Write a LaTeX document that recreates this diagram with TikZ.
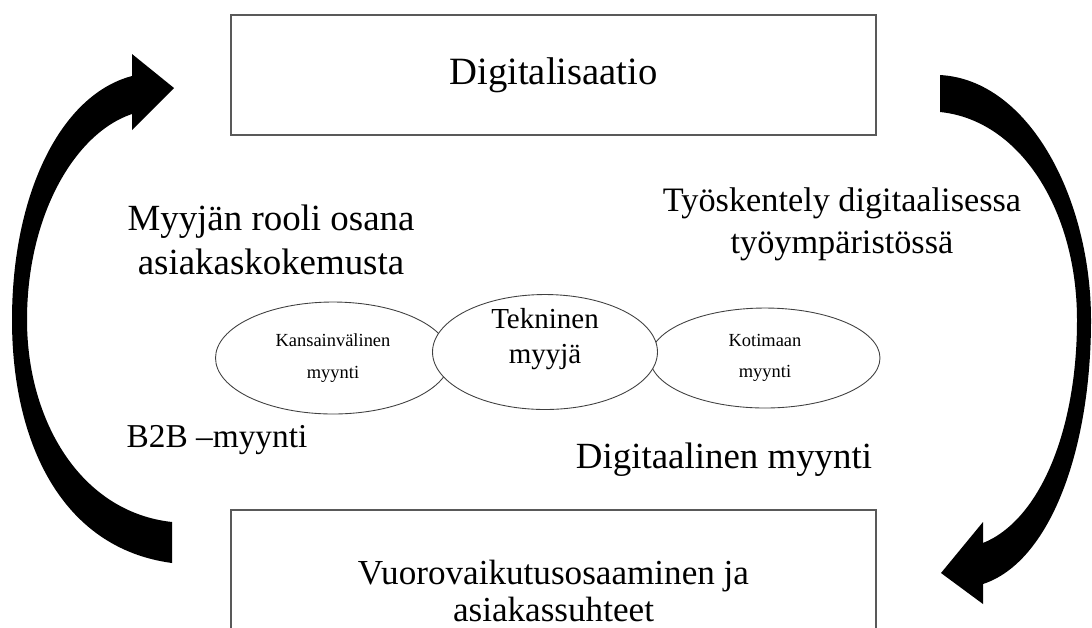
\documentclass[tikz,border=0pt]{standalone}
\usepackage{fontspec}
\setmainfont{Liberation Serif}
\usetikzlibrary{shapes.geometric}

\begin{document}
\begin{tikzpicture}[
            x=0.02cm, y=-0.02cm,
            box/.style={draw=black!65, line width=0.9pt, minimum width=12.9cm, align=center},
            oval/.style={ellipse, draw=black!75, line width=0.5pt, fill=white, align=center, inner sep=0pt},
            big/.style={align=center, font=\fontsize{20}{25}\selectfont}
        ]
            \useasboundingbox (0,0) rectangle (1092,627);

            \node[box, minimum height=2.4cm, font=\fontsize{22}{26}\selectfont] (digi) at (553.5,75) {Digitalisaatio};
            \node[box, minimum height=3.24cm, font=\fontsize{20}{21}\selectfont] (vuoro) at (553.5,591) {Vuorovaikutusosaaminen ja\\asiakassuhteet};

            \node[oval, minimum width=4.7cm, minimum height=2.24cm, font=\fontsize{10.5}{18}\selectfont] (kans) at (333,358) {Kansainvälinen\\myynti};
            \node[oval, minimum width=4.6cm, minimum height=2.0cm, font=\fontsize{10.5}{18}\selectfont] (koti) at (765,358) {Kotimaan\\myynti};
            \node[oval, minimum width=4.5cm, minimum height=2.3cm, font=\fontsize{16.5}{20}\selectfont] (myyja) at (545,352)
                {\raisebox{3pt}[0pt][0pt]{\begin{tabular}{@{}c@{}}Tekninen\\myyjä\end{tabular}}};

            \node[big, font=\fontsize{21}{25}\selectfont] (rooli) at (271,240) {Myyjän rooli osana\\asiakaskokemusta};
            \node[big, font=\fontsize{19.5}{24}\selectfont] (tyo) at (842,224) {Työskentely digitaalisessa\\työympäristössä};
            \node[big, font=\fontsize{19}{24}\selectfont] (b2b) at (217,440) {B2B –myynti};
            \node[big, font=\fontsize{21}{25}\selectfont] (digimyynti) at (724,460) {Digitaalinen myynti};

            \fill (172,563) .. controls (60,548) and (12,440) .. (12,320)
                .. controls (12,195) and (60,95) .. (132,76) -- (132,54) -- (174,88) -- (132,130) -- (132,114)
                .. controls (75,133) and (27,215) .. (27,320)
                .. controls (27,420) and (80,512) .. (172,522) -- cycle;

            \fill (940,75) .. controls (1030,80) and (1091,200) .. (1091,320)
                .. controls (1091,450) and (1050,562) .. (983,584) -- (983,604) -- (941,573) -- (983,522) -- (983,543)
                .. controls (1040,520) and (1077,430) .. (1077,320)
                .. controls (1077,210) and (1020,120) .. (940,112) -- cycle;
        \end{tikzpicture}
\end{document}
